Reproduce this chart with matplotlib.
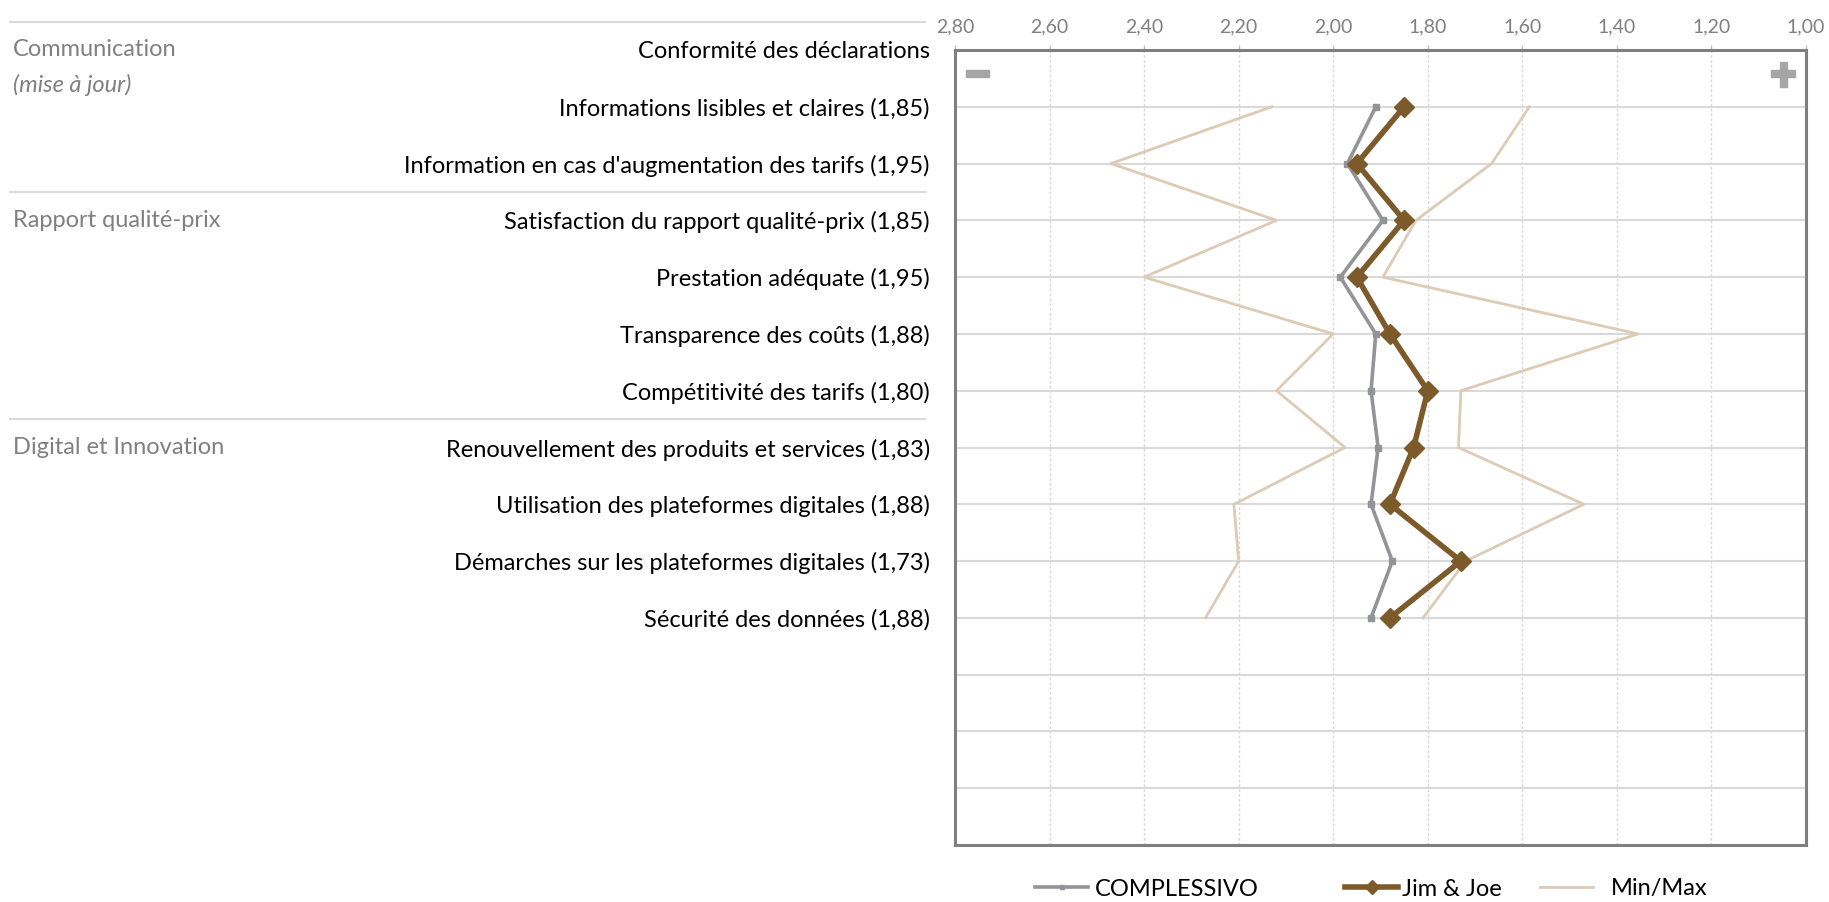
import matplotlib
matplotlib.use("Agg")
from matplotlib import pyplot as plt
from matplotlib import transforms
from matplotlib.patches import Rectangle
from matplotlib.ticker import MultipleLocator, FuncFormatter
import numpy as np

plt.rcParams['font.family'] = ['Lato', 'DejaVu Sans']

# rows of the chart, top to bottom
items = [
    "Conformité des déclarations",
    "Informations lisibles et claires (1,85)",
    "Information en cas d'augmentation des tarifs (1,95)",
    "Satisfaction du rapport qualité-prix (1,85)",
    "Prestation adéquate (1,95)",
    "Transparence des coûts (1,88)",
    "Compétitivité des tarifs (1,80)",
    "Renouvellement des produits et services (1,83)",
    "Utilisation des plateformes digitales (1,88)",
    "Démarches sur les plateformes digitales (1,73)",
    "Sécurité des données (1,88)",
]
groups = ["Communication", "Rapport qualité-prix", "Digital et Innovation"]
group_sizes = [3, 4, 4]
group_note = "(mise à jour)"

nan = np.nan
complessivo = [nan, 1.91, 1.97, 1.895, 1.985, 1.91, 1.92, 1.905, 1.92, 1.875, 1.92]
jim_joe = [nan, 1.85, 1.95, 1.85, 1.95, 1.88, 1.80, 1.83, 1.88, 1.73, 1.88]
max_vals = [nan, 2.13, 2.47, 2.12, 2.40, 2.00, 2.12, 1.975, 2.21, 2.20, 2.27]
min_vals = [nan, 1.585, 1.665, 1.825, 1.895, 1.355, 1.73, 1.735, 1.47, 1.72, 1.81]

n_rows = 14  # empty rows continue below the last item

GRAY = '#939498'
BROWN = '#7d5a2a'
TAN = '#dccbb5'
GRID = '#d9d9d9'
TXT_GRAY = '#808080'


def main():
    fig = plt.figure(figsize=(18.29, 9.02), dpi=100)
    ax = fig.add_axes([955 / 1829, 1 - 845 / 902, 851 / 1829, 795 / 902])

    y = np.arange(len(items))
    tan1, = ax.plot(max_vals, y, color=TAN, lw=2.0, label='Min/Max', zorder=2)
    ax.plot(min_vals, y, color=TAN, lw=2.0, zorder=2)
    gray, = ax.plot(complessivo, y, color=GRAY, lw=2.6, marker='s', ms=4,
                    label='COMPLESSIVO', zorder=3)
    brown, = ax.plot(jim_joe, y, color=BROWN, lw=4.0, marker='D', ms=10,
                     label='Jim & Joe', zorder=4)

    ax.set_xlim(2.8, 1.0)
    ax.set_ylim(n_rows, 0)
    ax.xaxis.set_major_locator(MultipleLocator(0.2))
    ax.xaxis.set_major_formatter(FuncFormatter(lambda v, p: ('%.2f' % v).replace('.', ',')))
    ax.xaxis.tick_top()
    ax.tick_params(axis='x', length=3.6, width=1, color='#bfbfbf',
                   labelcolor=TXT_GRAY, labelsize=14, pad=7)

    ax.set_yticks(np.arange(n_rows + 1))
    ax.set_yticklabels(items + [''] * (n_rows + 1 - len(items)), fontsize=17)
    ax.tick_params(axis='y', length=0, pad=18, labelcolor='black')

    ax.grid(axis='y', color=GRID, lw=1.5, ls='-')
    ax.grid(axis='x', color=GRID, lw=1.0, ls=(0, (2, 1.5)))
    ax.set_axisbelow(True)

    for s in ax.spines.values():
        s.set_color('#7f7f7f')
        s.set_linewidth(2.2)

    # "-" and "+" hints in the corners
    ax.add_patch(Rectangle((0.0125, 0.9655), 0.027, 0.0088, transform=ax.transAxes,
                           color='#a6a6a6', clip_on=False))
    ax.add_patch(Rectangle((0.959, 0.9655), 0.0282, 0.0088, transform=ax.transAxes,
                           color='#a6a6a6', clip_on=False))
    ax.add_patch(Rectangle((0.969, 0.954), 0.0082, 0.0314, transform=ax.transAxes,
                           color='#a6a6a6', clip_on=False))

    # group labels and separators left of the axes
    tr = transforms.blended_transform_factory(fig.transFigure, ax.transData)
    start = 0
    for g, size in zip(groups, group_sizes):
        ax.plot([10 / 1829, 925 / 1829], [start - 0.5, start - 0.5], transform=tr,
                color=GRID, lw=1.5, clip_on=False)
        ax.text(13 / 1829, start, g, transform=tr, color=TXT_GRAY,
                fontsize=17, va='center', ha='left')
        start += size
    ax.text(13 / 1829, 0.62, group_note, transform=tr, color=TXT_GRAY,
            fontsize=17, va='center', ha='left', style='italic')

    # legend entries sit at uneven spacing in the original
    ly = 1 - 889 / 902
    for handle, lx, tp in [(gray, 1035, 0.3), (brown, 1345, 0.15), (tan1, 1540, 0.75)]:
        leg = fig.legend([handle], [handle.get_label()], loc='center left',
                         bbox_to_anchor=(lx / 1829, ly), frameon=False, fontsize=17,
                         handlelength=2.25, handletextpad=tp, borderpad=0,
                         borderaxespad=0, markerscale=0.75)

    plt.savefig('out.png', dpi=100)


if __name__ == '__main__':
    main()
